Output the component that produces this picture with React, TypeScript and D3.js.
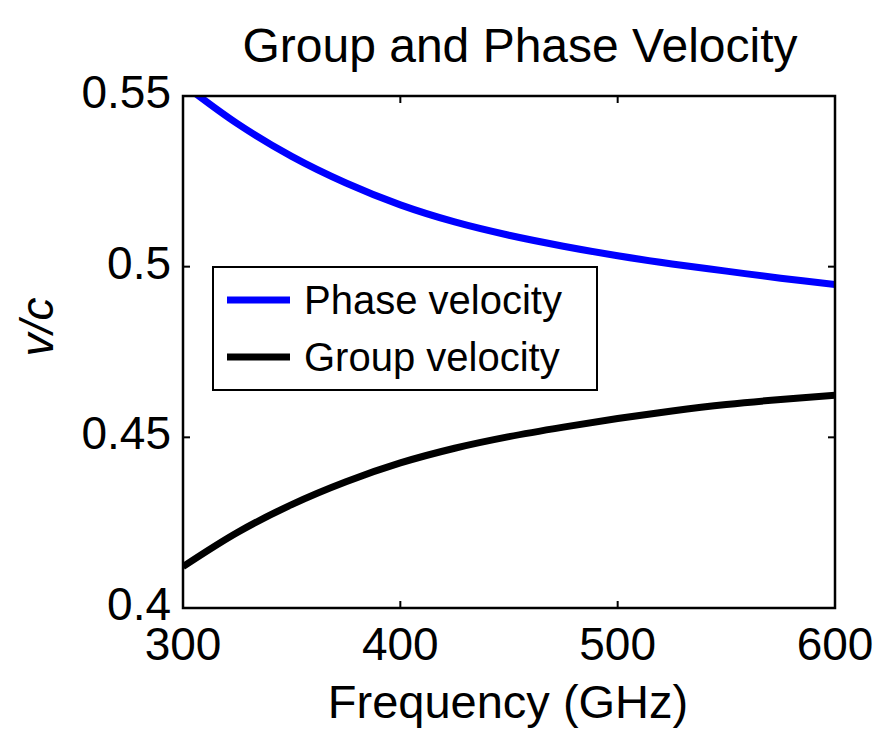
import React from "react";
import * as d3 from "d3";

const freqs = [300, 325, 350, 375, 400, 425, 450, 475, 500, 525, 550, 575, 600];
const phaseVelocity = [0.5535, 0.5419, 0.5323, 0.5245, 0.5181, 0.5131, 0.5092, 0.506, 0.5032, 0.5008, 0.4987, 0.4966, 0.4948];
const groupVelocity = [0.4121, 0.4221, 0.4303, 0.437, 0.4425, 0.4468, 0.4502, 0.453, 0.4555, 0.4577, 0.4596, 0.4611, 0.4623];
const xTicks = [300, 400, 500, 600];
const yTicks = [0.4, 0.45, 0.5, 0.55];
const yTickLabels = ["0.4", "0.45", "0.5", "0.55"];
const seriesNames = ["Phase velocity", "Group velocity"];
const seriesColors = ["#0000ff", "#000000"];

const W = 888, H = 735;
const L = 183, R = 835, T = 96, B = 608;
const FONT = "'Liberation Sans', Arial, sans-serif";

export default function App() {
  const x = d3.scaleLinear().domain([300, 600]).range([L, R]);
  const y = d3.scaleLinear().domain([0.4, 0.55]).range([B, T]);
  const line = d3
    .line<number>()
    .x((_, i) => x(freqs[i]))
    .y((d) => y(d))
    .curve(d3.curveCatmullRom);
  const series = [phaseVelocity, groupVelocity];
  const tickLen = 7;

  return (
    <svg width={W} height={H} style={{ position: "absolute", left: 0, top: 0, background: "#fff" }} fontFamily={FONT}>
      <defs>
        <clipPath id="plotclip">
          <rect x={L} y={T} width={R - L} height={B - T} />
        </clipPath>
      </defs>
      <rect x={0} y={0} width={W} height={H} fill="#fff" />
      <text x={520} y={62} textAnchor="middle" fontSize={48} fill="#000">
        Group and Phase Velocity
      </text>
      <g clipPath="url(#plotclip)">
        {series.map((s, i) => (
          <path key={i} d={line(s) || ""} fill="none" stroke={seriesColors[i]} strokeWidth={7} />
        ))}
      </g>
      {xTicks.map((t) => (
        <g key={"x" + t}>
          <line x1={x(t)} x2={x(t)} y1={B} y2={B - tickLen} stroke="#000" strokeWidth={2} />
          <line x1={x(t)} x2={x(t)} y1={T} y2={T + tickLen} stroke="#000" strokeWidth={2} />
          <text x={x(t)} y={660} textAnchor="middle" fontSize={46} fill="#000">
            {t}
          </text>
        </g>
      ))}
      {yTicks.map((t, i) => (
        <g key={"y" + t}>
          <line x1={L} x2={L + tickLen} y1={y(t)} y2={y(t)} stroke="#000" strokeWidth={2} />
          <line x1={R} x2={R - tickLen} y1={y(t)} y2={y(t)} stroke="#000" strokeWidth={2} />
          <text x={L - 12} y={y(t) + 12} textAnchor="end" fontSize={46} fill="#000">
            {yTickLabels[i]}
          </text>
        </g>
      ))}
      <rect x={L} y={T} width={R - L} height={B - T} fill="none" stroke="#000" strokeWidth={2.5} />
      <text x={508} y={718} textAnchor="middle" fontSize={47} fill="#000">
        Frequency (GHz)
      </text>
      <text
        transform={`translate(53, 327) rotate(-90)`}
        textAnchor="middle"
        fontSize={46}
        fontStyle="italic"
        fill="#000"
      >
        v/c
      </text>
      <rect x={213} y={267} width={384} height={123} fill="#fff" stroke="#000" strokeWidth={2} />
      {seriesNames.map((n, i) => (
        <g key={n}>
          <line x1={227} x2={290} y1={300 + i * 57} y2={300 + i * 57} stroke={seriesColors[i]} strokeWidth={7} />
          <text x={304} y={300 + i * 57 + 14} fontSize={40} fill="#000">
            {n}
          </text>
        </g>
      ))}
    </svg>
  );
}
